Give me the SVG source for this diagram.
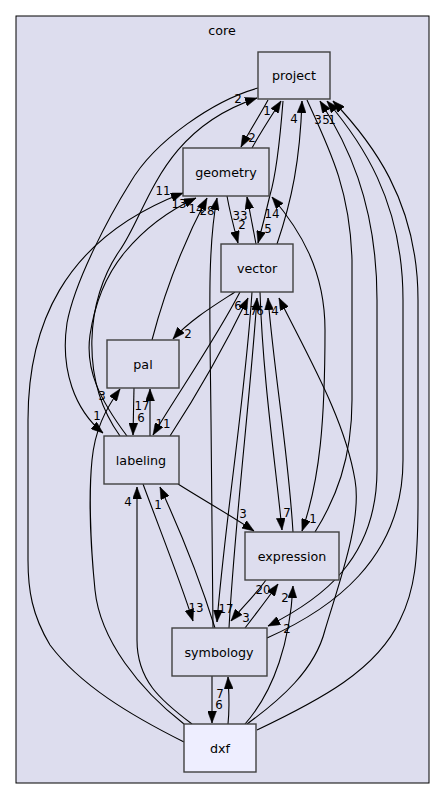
<svg xmlns="http://www.w3.org/2000/svg" width="445" height="799" viewBox="0 0 445 799">
<style>
.node rect{fill:#ddddee;stroke:#404040;stroke-width:1.4}
#dxf rect{fill:#eeeeff}
text{font-family:"DejaVu Sans","Liberation Sans",sans-serif;font-size:12.7px;fill:#000;text-anchor:middle}
.e path{fill:none;stroke:#000;stroke-width:1.1;marker-end:url(#ah)}
.e path.b{marker-start:url(#ah)}
.e path.n{marker-end:none}
.lbl text{font-size:11.8px}
</style>
<defs>
<marker id="ah" viewBox="0 0 12 9" refX="12" refY="4.5" markerWidth="12" markerHeight="9" markerUnits="userSpaceOnUse" orient="auto-start-reverse"><path d="M0,0 L12,4.5 L0,9 z" fill="#000" stroke="#000" stroke-width="0.5"/></marker>
</defs>
<rect x="0" y="0" width="445" height="799" fill="#ffffff"/>
<g id="cluster_core">
<rect x="16" y="16" width="413" height="767" fill="#ddddee" stroke="#000" stroke-width="1"/>
<text x="222" y="35">core</text>
</g>
<g id="edges" class="e">
<path d="M120,436 C80,380 85,300 120,250 C148,210 160,130 257,98"/>
<path d="M258,88 C215,100 155,140 130,183 C110,215 75,280 67,323 C60,370 75,410 103,433"/>
<path d="M268,100 C260,115 250,130 241,147"/>
<path d="M252,148 C262,130 272,115 281,101"/>
<path d="M283,101 C280,140 276,175 270,195 C266,212 262,228 258,243"/>
<path d="M277,244 C292,200 300,160 302,101"/>
<path d="M227,196 C230,213 234,228 238,243"/>
<path d="M256,244 C253,228 250,212 247,197"/>
<path class="b" d="M272,197 C300,230 325,270 325,330 C325,420 320,480 302,531"/>
<path class="n" d="M307,100 C330,150 350,190 352,260 L352,400 C352,460 335,500 315,532"/>
<path class="b" d="M320,101 C345,140 377,200 377,300 L377,470 C377,560 320,600 268,626"/>
<path d="M267,638 C330,610 403,560 403,460 L403,300 C403,200 360,140 327,101"/>
<path d="M257,730 C320,700 377,670 400,620 C415,590 418,560 418,500 L418,300 C418,200 370,140 333,101"/>
<path d="M235,292 C215,305 190,320 173,339"/>
<path d="M240,292 C215,340 180,390 153,435"/>
<path d="M170,436 C200,390 230,335 248,298"/>
<path d="M152,340 C165,290 185,240 207,198"/>
<path d="M127,436 C100,400 85,370 90,335 C96,295 110,270 125,252 C145,228 170,210 196,198"/>
<path d="M184,742 C130,715 80,685 50,645 C32,615 28,590 28,560 L28,420 C28,330 60,240 183,193"/>
<path d="M213,628 C212,540 211,470 211,420 C210,320 207,250 217,198"/>
<path d="M134,388 L133,435"/>
<path d="M150,436 L150,389"/>
<path d="M184,724 C140,690 100,640 95,590 C90,540 89,490 92,460 C95,430 105,410 120,389"/>
<path d="M192,724 C160,700 137,680 137,640 L137,487"/>
<path d="M143,484 C160,530 180,580 193,621"/>
<path d="M215,628 C200,580 180,530 160,487"/>
<path d="M178,484 C200,498 230,515 254,531"/>
<path d="M252,292 C245,400 225,520 217,622"/>
<path d="M229,628 C235,520 250,400 257,298"/>
<path d="M260,292 C263,380 275,460 282,530"/>
<path d="M293,532 C288,450 275,380 268,298"/>
<path d="M247,724 C280,700 315,670 325,630 C340,580 362,520 355,480 C345,420 310,360 279,298"/>
<path d="M245,724 C275,690 290,640 293,586"/>
<path d="M245,628 C255,615 268,598 278,584"/>
<path d="M266,580 C255,595 242,608 231,621"/>
<path d="M212,676 C212,695 212,708 212,723"/>
<path d="M228,724 C230,705 229,695 228,677"/>
</g>
<g id="edge_labels" class="lbl">
<text x="238" y="103">2</text>
<text x="267" y="115">1</text>
<text x="294" y="123">4</text>
<text x="318" y="124">3</text>
<text x="326" y="124">5</text>
<text x="332" y="124">1</text>
<text x="252" y="142">2</text>
<text x="163" y="195">11</text>
<text x="179" y="208">13</text>
<text x="196" y="213">14</text>
<text x="207" y="215">28</text>
<text x="240" y="220">33</text>
<text x="242" y="229">2</text>
<text x="272" y="218">14</text>
<text x="268" y="233">5</text>
<text x="188" y="338">2</text>
<text x="238" y="310">6</text>
<text x="250" y="315">17</text>
<text x="260" y="315">6</text>
<text x="275" y="315">4</text>
<text x="102" y="400">3</text>
<text x="97" y="420">1</text>
<text x="142" y="410">17</text>
<text x="141" y="422">6</text>
<text x="163" y="428">11</text>
<text x="128" y="506">4</text>
<text x="158" y="509">1</text>
<text x="243" y="518">3</text>
<text x="287" y="517">7</text>
<text x="313" y="523">1</text>
<text x="263" y="594">20</text>
<text x="285" y="602">2</text>
<text x="196" y="612">13</text>
<text x="226" y="613">17</text>
<text x="246" y="622">3</text>
<text x="287" y="633">2</text>
<text x="220" y="698">7</text>
<text x="219" y="709">6</text>
</g>
<g id="project" class="node"><rect x="258" y="52" width="72" height="47"/><text x="294" y="80">project</text></g>
<g id="geometry" class="node"><rect x="183" y="148" width="86" height="48"/><text x="226" y="177">geometry</text></g>
<g id="vector" class="node"><rect x="221" y="244" width="72" height="48"/><text x="257" y="273">vector</text></g>
<g id="pal" class="node"><rect x="107" y="340" width="72" height="48"/><text x="143" y="369">pal</text></g>
<g id="labeling" class="node"><rect x="104" y="436" width="75" height="48"/><text x="141" y="465">labeling</text></g>
<g id="expression" class="node"><rect x="245" y="532" width="94" height="48"/><text x="292" y="561">expression</text></g>
<g id="symbology" class="node"><rect x="172" y="628" width="95" height="48"/><text x="219" y="657">symbology</text></g>
<g id="dxf" class="node"><rect x="184" y="724" width="72" height="48"/><text x="220" y="753">dxf</text></g>
</svg>
